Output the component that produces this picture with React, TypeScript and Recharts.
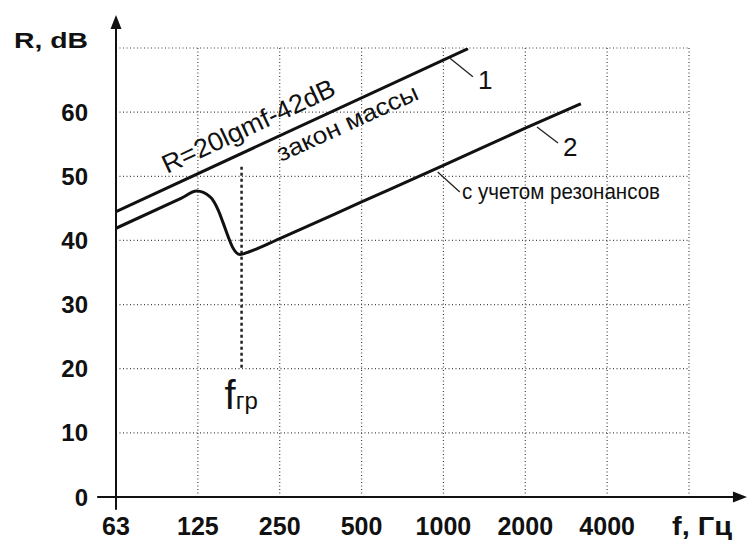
import React from 'react';
import { LineChart, Line, XAxis, YAxis, CartesianGrid, ReferenceLine, ReferenceDot } from 'recharts';

// x is measured in octaves from 63 Hz
const octaveTicks = [0, 1, 2, 3, 4, 5, 6, 7];
const freqLabels = ['63', '125', '250', '500', '1000', '2000', '4000', 'f, Гц'];
const dbTicks = [0, 10, 20, 30, 40, 50, 60, 70];

// curve 1: mass law
const massLawX = [0, 4.3];
const massLawR = [44.5, 69.9];

// curve 2: with resonances
const resonX = [0, 0.8, 0.985, 1.15, 1.25, 1.31, 1.37, 1.43, 1.515, 1.62, 2, 3, 4, 5, 5.68];
const resonR = [41.9, 46.6, 47.7, 46.8, 44.7, 42.7, 40.6, 38.8, 37.8, 38.2, 40.3, 46.0, 51.7, 57.5, 61.3];

const fCritical = 1.534;

const massLaw = massLawX.map((x, i) => ({ x, r: massLawR[i] }));
const resonance = resonX.map((x, i) => ({ x, r: resonR[i] }));

const FONT = '"Liberation Sans", Arial, sans-serif';
const INK = '#111';

const YTick = ({ x, y, payload }: any) => {
  if (payload.value === 70) {
    return (
      <text x={x} y={y - 8} dy="0.355em" textAnchor="end" fontFamily={FONT} fontSize={22} fontWeight="bold"
        fill={INK} textLength={74} lengthAdjust="spacingAndGlyphs">
        R, dB
      </text>
    );
  }
  return (
    <text x={x} y={y} dy="0.355em" textAnchor="end" fontFamily={FONT} fontSize={24} fontWeight="bold" fill={INK}>
      {payload.value}
    </text>
  );
};

const XTick = ({ x, y, payload }: any) => {
  const label = freqLabels[payload.value];
  if (payload.value === 7) {
    return (
      <text x={x + 13} y={y + 38} textAnchor="middle" fontFamily={FONT} fontSize={25} fontWeight="bold"
        fill={INK} textLength={60} lengthAdjust="spacingAndGlyphs">
        {label}
      </text>
    );
  }
  return (
    <text x={x} y={y + 38} textAnchor="middle" fontFamily={FONT} fontSize={25} fontWeight="bold" fill={INK}>
      {label}
    </text>
  );
};

const rotatedText = (txt: string, size: number, len: number, angle: number) => (p: any) => (
  <text x={p.cx} y={p.cy} fontFamily={FONT} fontSize={size} fill={INK} textLength={len}
    lengthAdjust="spacingAndGlyphs" transform={`rotate(${angle} ${p.cx} ${p.cy})`}>
    {txt}
  </text>
);

const plainText = (txt: string, size: number, len?: number, anchor = 'start') => (p: any) => (
  <text x={p.cx} y={p.cy} fontFamily={FONT} fontSize={size} fill={INK} textAnchor={anchor}
    textLength={len} lengthAdjust={len ? 'spacingAndGlyphs' : undefined}>
    {txt}
  </text>
);

const fgrLabel = (p: any) => (
  <text x={p.cx - 17} y={p.cy} fontFamily={FONT} fill={INK}>
    <tspan fontSize={40}>f</tspan>
    <tspan fontSize={24}>гр</tspan>
  </text>
);

const arrowRight = (p: any) => <path d={`M${p.cx},${p.cy} l-14,-5.5 l0,11 Z`} fill={INK} />;
const arrowUp = (p: any) => <path d={`M${p.cx},${p.cy} l-5.5,14 l11,0 Z`} fill={INK} />;

export default function App() {
  return (
    <div style={{ position: 'absolute', left: 0, top: 0, background: '#fff' }}>
      <LineChart width={747} height={540} margin={{ top: 48, right: 58, bottom: 0, left: 0 }}>
        <CartesianGrid stroke="#444" strokeDasharray="1 2.5" strokeWidth={1.2} />
        <XAxis
          type="number"
          dataKey="x"
          domain={[0, 7]}
          ticks={octaveTicks}
          allowDataOverflow
          axisLine={false}
          tickLine={false}
          tickSize={0}
          tickMargin={0}
          height={43}
          tick={<XTick />}
          interval={0}
        />
        <YAxis
          type="number"
          domain={[0, 70]}
          ticks={dbTicks}
          allowDataOverflow
          axisLine={false}
          tickLine={false}
          tickSize={0}
          tickMargin={28}
          width={116}
          tick={<YTick />}
          interval={0}
        />

        {/* axes with arrows */}
        <ReferenceLine segment={[{ x: -0.23, y: 0 }, { x: 7.6, y: 0 }]} stroke={INK} strokeWidth={2} ifOverflow="visible" />
        <ReferenceLine segment={[{ x: 0, y: -2.0 }, { x: 0, y: 74.5 }]} stroke={INK} strokeWidth={2} ifOverflow="visible" />
        <ReferenceDot x={7.708} y={0} r={1} ifOverflow="visible" shape={arrowRight} />
        <ReferenceDot x={0} y={75.15} r={1} ifOverflow="visible" shape={arrowUp} />

        {/* critical frequency marker */}
        <ReferenceLine segment={[{ x: fCritical, y: 51.5 }, { x: fCritical, y: 19.8 }]} stroke="#222"
          strokeWidth={2.5} strokeDasharray="3 3" ifOverflow="visible" />
        <ReferenceDot x={fCritical} y={13.7} r={1} ifOverflow="visible" shape={fgrLabel} />

        <Line data={massLaw} dataKey="r" type="linear" stroke={INK} strokeWidth={3} dot={false} isAnimationActive={false} />
        <Line data={resonance} dataKey="r" type="monotone" stroke={INK} strokeWidth={3} dot={false} isAnimationActive={false} />

        {/* leaders */}
        <ReferenceLine segment={[{ x: 4.08, y: 68.4 }, { x: 4.36, y: 65.5 }]} stroke="#222" strokeWidth={1.3} ifOverflow="visible" />
        <ReferenceLine segment={[{ x: 5.143, y: 57.7 }, { x: 5.4, y: 55.2 }]} stroke="#222" strokeWidth={1.3} ifOverflow="visible" />
        <ReferenceLine segment={[{ x: 3.93, y: 50.67 }, { x: 4.2, y: 47.55 }]} stroke="#222" strokeWidth={1.3} ifOverflow="visible" />

        {/* annotations */}
        <ReferenceDot x={0.623} y={50.36} r={1} ifOverflow="visible" shape={rotatedText('R=20lgmf-42dB', 26, 188, -25)} />
        <ReferenceDot x={2.016} y={52.23} r={1} ifOverflow="visible" shape={rotatedText('закон массы', 24, 153, -24.5)} />
        <ReferenceDot x={4.51} y={63.6} r={1} ifOverflow="visible" shape={plainText('1', 26, undefined, 'middle')} />
        <ReferenceDot x={5.549} y={53.2} r={1} ifOverflow="visible" shape={plainText('2', 26, undefined, 'middle')} />
        <ReferenceDot x={4.227} y={46.46} r={1} ifOverflow="visible" shape={plainText('с учетом резонансов', 22, 198)} />
      </LineChart>
    </div>
  );
}
